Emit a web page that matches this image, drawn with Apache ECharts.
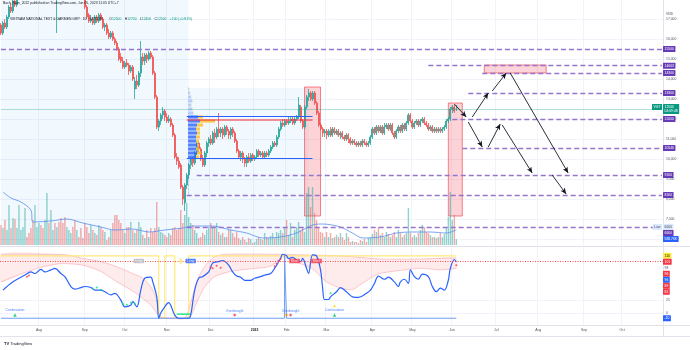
<!DOCTYPE html>
<html>
<head>
<meta charset="utf-8">
<script src="https://cdn.jsdelivr.net/npm/echarts@6/dist/echarts.min.js"></script>
<style>
html,body{margin:0;padding:0;background:#ffffff;}
#chart{width:690px;height:350px;}
</style>
</head>
<body>
<div id="chart"></div>
<script>
// ===== DATA (prices in hundreds of VND, volume in 100K shares) =====
const candles = [
[167,163,162,168],[163,168,162,169],[168,166,165,170],[166,171,165,172],[171,176,170,177],[176,174,173,178],[174,179,173,180],[179,177,176,181],[177,181,176,182],[181,184,180,185],
[184,186,183,188],[186,189,185,190],[189,191,188,193],[191,188,187,192],[188,186,185,189],[186,184,183,187],[184,182,181,185],[182,185,181,186],[185,187,184,188],[187,189,186,190],
[189,186,185,190],[186,184,183,187],[184,187,183,188],[187,189,186,190],[189,186,185,190],[186,188,185,189],[188,190,187,191],[190,187,186,191],[182,185,163,186],[186,184,183,187],
[184,183,182,185],[183,182,181,184],[182,181,181,183],[181,184,181,185],[184,186,183,187],[186,188,185,189],[188,185,184,189],[185,183,182,186],[183,186,182,187],[186,184,183,187],
[184,182,181,185],[182,181,181,183],[181,176,175,182],[176,171,170,177],[172,169,168,173],[169,170,168,172],[170,168,167,171],[168,171,167,172],[171,169,168,172],[169,172,168,173],
[172,170,169,173],[170,166,165,171],[166,167,164,168],[167,163,162,168],[163,161,160,165],[161,163,160,164],[163,160,159,164],[160,158,157,161],[158,155,154,159],[155,150,149,156],
[151,149,148,153],[149,146,145,151],[146,148,145,149],[148,147,146,150],[147,144,142,148],[144,146,143,147],[146,140,139,147],[135,139,130,141],[139,137,135,142],[137,143,136,144],
[143,151,141,159],[151,149,147,153],[149,152,147,153],[152,150,148,153],[150,153,149,154],[153,151,150,154],[151,143,142,152],[143,131,130,144],[131,116,115,132],[116,119,114,120],
[119,122,117,123],[122,124,120,126],[124,121,119,125],[121,119,118,123],[119,120,118,122],[120,117,116,121],[117,112,111,118],[112,101,100,113],[101,99,97,103],[99,96,95,101],
[97,86,85,98],[86,80,77,87],[78,87,74,88],[87,92,85,93],[92,97,90,98],[97,100,95,101],[100,98,96,101],[98,103,97,104],[103,108,102,109],[108,105,103,109],
[105,100,99,106],[100,97,96,102],[97,103,96,104],[103,108,101,109],[108,110,106,111],[110,108,107,112],[108,113,107,114],[113,111,108,115],[111,115,110,116],[115,113,111,123],
[113,115,111,116],[115,112,110,116],[112,116,111,117],[116,114,112,117],[114,112,110,115],[112,115,110,116],[115,113,111,116],[113,109,108,114],[109,104,103,110],[104,101,100,105],
[101,103,99,104],[103,100,98,104],[100,98,96,101],[98,101,96,102],[101,99,98,103],[99,102,98,103],[102,100,99,103],[100,101,99,102],[101,104,100,105],[104,102,101,105],
[102,103,101,104],[103,101,100,104],[101,103,100,104],[103,102,101,104],[102,104,101,105],[104,106,103,107],[106,108,105,109],[108,107,106,109],[107,111,106,112],[111,115,110,116],
[115,118,114,119],[118,117,116,120],[117,119,116,120],[119,118,117,120],[118,119,117,121],[119,120,118,121],[120,118,117,121],[118,120,117,121],[120,121,119,122],[121,127,120,131],
[126,119,118,127],[119,116,115,120],[116,126,115,127],[126,131,125,132],[131,133,129,135],[133,130,129,134],[130,133,129,134],[133,128,127,134],[128,123,122,129],[123,117,116,124],
[117,115,114,118],[115,113,111,116],[113,114,111,115],[114,112,110,115],[112,114,111,115],[114,112,111,116],[112,115,111,116],[115,113,112,116],[113,114,112,115],[114,112,111,115],
[112,113,110,114],[113,111,110,114],[111,110,109,112],[110,112,109,113],[112,110,108,113],[110,108,107,111],[108,109,107,110],[109,108,107,110],[108,107,106,109],[107,108,106,109],
[108,107,106,109],[107,109,106,110],[109,108,107,110],[108,107,106,109],[107,108,106,109],[108,111,107,112],[111,115,110,116],[115,113,112,116],[113,116,112,117],[116,114,113,117],
[114,116,113,117],[116,113,112,117],[113,116,112,118],[116,117,115,118],[117,115,114,118],[115,117,114,118],[117,113,112,118],[113,111,110,114],[111,114,110,115],[114,116,113,117],
[116,114,113,117],[114,117,113,118],[117,115,114,118],[115,118,114,119],[118,122,117,123],[122,119,118,123],[119,116,115,120],[116,118,115,119],[118,119,117,120],[119,117,116,120],
[117,119,116,120],[119,120,118,121],[120,118,117,121],[118,117,116,119],[117,115,114,118],[115,116,114,117],[116,114,113,117],[114,115,113,116],[115,114,113,116],[114,115,113,116],
[115,114,113,116],[114,115,113,116],[115,116,114,117],[116,119,115,120],[119,120,118,121],[120,125,119,126],[125,126,123,127],[126,124,123,127],[125,125,124,127]
];
const volume = [
20,17,25,15,40,17,27,26,17,40,15,18,37,8,12,17,25,40,18,22,20,17,25,52,22,35,15,22,18,23,27,22,28,18,15,12,18,25,15,8,17,7,22,18,12,20,15,12,10,20,18,15,13,5,8,15,22,
30,
30,25,22,15,12,18,18,23,15,12,15,23,18,10,7,15,8,17,13,17,43,18,13,12,10,8,12,10,17,18,15,17,35,22,30,42,28,22,20,15,12,7,8,12,10,15,18,22,17,18,22,13,10,12,8,8,15,
15,12,8,13,7,5,8,5,3,7,6,2,3,6,8,6,5,12,8,7,9,12,7,13,12,15,12,18,25,10,22,8,15,18,23,15,18,13,52,58,38,58,32,25,18,13,12,8,13,8,12,7,8,10,8,12,8,5,12,8,
3,4,3,3,2,5,4,6,3,7,8,11,15,13,18,10,12,8,13,11,8,10,13,8,15,12,8,10,12,37,12,8,10,8,12,15,20,18,13,12,10,8,8,7,8,12,8,11,18,28,53,25,30,5.8876
];
const volumeMA = [[1,53],[5,47],[10,43],[15,35],[16,23],[25,24],[33,26],[41,22],[50,18],[57,15],[66,16],[74,13],[82,15],[91,17],[96,19],[106,19],[115,15],[123,12],[131,7],[140,8],[148,12],[156,20],[161,21],[170,18],[176,12],[181,7],[190,8],[198,12],[206,13],[215,13],[223,12],[228,15]];
const monthLabels = ['Aug','Sep','Oct','Nov','Dec','2023','Feb','Mar','Apr','May','Jun','Jul','Aug','Sep','Oct'];
const monthStartBar = [19,42,62,83,105,127,143,163,186,206,226,248,269,292,311];
const totalBars = 332;
const priceTicks = [6000,7000,8000,9000,10000,11000,12000,13000,14000,15000,16000,17000];
const levelPrices = [15500,14663,14300,13300,12000,10546,9200,8200,6600];
const levelStartBar = [0,214,241,234,226,231,98,93,93];
const profileLines = [12150,11950,10050];
const profileSpan = [93,156];
const profileRows = [[8200,1,0],[8400,1,0],[8600,1,0.5],[8800,1,0.5],[9000,1,0.5],[9200,1.5,0.5],[9400,1.5,1],[9600,2,1],[9800,3,1],[10000,8,3],[10200,9,4],[10400,8,3],[10600,9,2],[10800,8,3],[11000,8,4],[11200,9,3],[11400,8,4],[11600,9,6],[11800,12,15],[12000,10,5],[12200,5,1],[12400,4,1],[12600,3,1],[12800,4,1],[13000,3,0.5],[13200,2,0.5],[13400,1,0.5]];
const pinkZones = [[152,13600,160,7150],[224,12800,231,7150],[242,14700,273,14300]];
const shadedZones = [[0,17950,94,5700],[94,13550,154,5700]];
const arrows = [[227,12750,233,12100],[236,12100,244,13300],[246,13400,253,14300],[255,14300,284,9300],[234,11850,241,10600],[244,10600,250,11750],[251,11700,266,9300],[276,9200,283,8250]];
const lastPrice = 12500;
const oscillator = [[1,44],[6,60],[12,73],[15,79],[17,76],[20,84],[22,79],[25,83],[27,86],[30,76],[32,70],[35,51],[37,46],[40,49],[42,51],[45,49],[47,44],[50,44],[52,41],[55,35],[57,38],[60,25],[62,12],[65,15],[66,22],[68,12],[70,44],[72,67],[75,69],[76,60],[78,31],[79,-10],[80,0],[82,12],[84,20],[85,15],[87,-4],[89,-10],[92,-10],[94,-10],[95,-4],[97,44],[99,67],[101,70],[104,79],[106,96],[109,99],[111,101],[114,92],[116,79],[118,71],[120,69],[122,63],[125,63],[127,67],[130,70],[132,73],[135,76],[137,86],[140,105],[141,113],[143,110],[144,105],[146,107],[148,102],[150,99],[151,105],[153,86],[154,76],[156,112],[158,110],[160,83],[161,51],[162,26],[164,26],[165,31],[168,41],[170,49],[173,41],[176,31],[179,30],[183,38],[185,44],[187,57],[189,71],[192,65],[194,69],[197,60],[199,51],[200,60],[202,65],[204,57],[205,83],[207,70],[209,65],[211,75],[214,70],[216,51],[218,41],[220,48],[222,44],[224,63],[225,86],[227,103],[228,98]];
const bandUpper = [[0,113],[33,112],[41,105],[50,99],[58,89],[66,76],[71,67],[75,51],[78,25],[80,-8],[86,-10],[92,-10],[95,20],[98,60],[102,90],[107,108],[112,113],[140,113],[150,112],[170,110],[190,104],[210,104],[228,106]];
const bandLower = [[0,60],[10,75],[20,88],[30,95],[41,92],[50,80],[58,60],[66,42],[71,28],[75,15],[78,0],[80,-8],[92,-10],[95,-5],[98,20],[102,50],[107,70],[115,80],[125,85],[135,90],[141,108],[146,100],[150,95],[156,85],[163,60],[170,48],[176,45],[180,55],[189,75],[200,82],[210,86],[220,83],[228,86]];
const trendLine = [[0,110],[79,110],[79,-10],[82,-10],[82,110],[87,110],[87,-10],[94,-10],[94,110],[228,110]];
const baseLine = [[0,-10],[142,-10],[142,110],[143,110],[143,-10],[228,-10]];
const accumLine = [[88,-2],[95,-2]];
const redDots = [[13,70],[14,72],[105,88],[106,86],[108,91],[110,87],[137,90],[138,95],[139,100],[140,104],[228,92]];
const greenDots = [[46,47],[48,49],[50,45],[61,18],[63,16],[65,20],[67,18],[165,38]];
const continuationBars = [7,167];
const overboughtBars = [117,145];
const warnBars = [143];
const longBars = [69];
const longActiveBars = [95];
const shortBars = [147,158];
const indicatorLast = [110,101,98,96,96,89,82,-10];

// ===== CHART =====
const FONT = 'Liberation Sans, Arial, sans-serif';
const chart = echarts.init(document.getElementById('chart'));
const categories = Array.from({length: totalBars}, (_, i) => String(i));
const monthMap = {};
monthStartBar.forEach((b, k) => { monthMap[b] = monthLabels[k]; });
const isMonth = (i) => monthMap[i] !== undefined;
const UP = '#26a69a', DOWN = '#ef5350';
const candleData = candles.map(c => c.map(v => v * 100));
const volData = volume.map((v, i) => ({value: v, itemStyle: {color: candles[i][1] >= candles[i][0] ? 'rgba(38,166,154,0.5)' : 'rgba(239,83,80,0.5)'}}));

function mkX(gi, show) {
  return {
    type: 'category', gridIndex: gi, data: categories, boundaryGap: true,
    axisLine: {show: false}, axisTick: {show: false},
    axisLabel: {show: show, interval: (i) => isMonth(i), formatter: (v, i) => monthMap[i] === '2023' ? '{b|2023}' : (monthMap[i] || ''),
      fontSize: 3.4, color: '#50535e', margin: 4, fontFamily: FONT, rich: {b: {fontSize: 3.4, fontWeight: 'bold', color: '#131722', fontFamily: FONT}}},
    splitLine: {show: true, interval: (i) => isMonth(i), lineStyle: {color: '#f0f3fa', width: 1}}
  };
}

const lineData = [];
levelPrices.forEach((p, k) => lineData.push([
  {coord: [levelStartBar[k], p], symbol: 'none', lineStyle: {color: '#9575cd', type: [5, 3], width: 1.4}},
  {coord: [totalBars - 1, p], symbol: 'none'}]));
const profColors = ['#2962ff', 'rgba(242,54,69,0.55)', '#2962ff'];
const profWidths = [1.2, 2, 1.2];
profileLines.forEach((p, k) => lineData.push([
  {coord: [profileSpan[0], p], symbol: 'none', lineStyle: {color: profColors[k], width: profWidths[k], type: 'solid'}},
  {coord: [profileSpan[1], p], symbol: 'none'}]));
lineData.push([{coord: [0, lastPrice], symbol: 'none', lineStyle: {color: 'rgba(8,153,129,0.3)', width: 1, type: 'solid'}}, {coord: [totalBars - 1, lastPrice], symbol: 'none'}]);
arrows.forEach(a => lineData.push([
  {coord: [a[0], a[1]], symbol: 'none', lineStyle: {color: '#131722', width: 0.9, type: 'solid'}},
  {coord: [a[2], a[3]], symbol: 'arrow', symbolSize: [4, 6]}]));

const pinkAreas = pinkZones.map(z => [
  {coord: [z[0], z[1]], itemStyle: {color: 'rgba(242,54,69,0.22)', borderColor: 'rgba(242,54,69,0.6)', borderWidth: 1}},
  {coord: [z[2], z[3]]}]);
const shadeAreas = shadedZones.map(z => [
  {coord: [z[0], z[1]], itemStyle: {color: 'rgba(33,150,243,0.06)'}},
  {coord: [z[2], z[3]]}]);

function tagLabel(text, bg, fg) {
  return {show: true, position: 'inside', formatter: text, backgroundColor: bg, color: fg, fontSize: 3.2, padding: [0.8, 1.5], borderRadius: 0.5, fontFamily: FONT};
}

const option = {
  animation: false,
  backgroundColor: '#ffffff',
  grid: [
    {left: 0, right: 27, top: 0, height: 245},
    {left: 0, right: 27, top: 185, height: 60},
    {left: 0, right: 27, top: 247, height: 78},
    {left: 188, width: 60, top: 0, height: 245}
  ],
  xAxis: [
    mkX(0, false), mkX(1, false), mkX(2, true),
    {type: 'value', gridIndex: 3, min: 0, max: 60, show: false}
  ],
  yAxis: [
    {type: 'value', gridIndex: 0, position: 'right', min: 5700, max: 17950,
      axisLine: {show: false}, axisTick: {show: false, customValues: priceTicks},
      axisLabel: {customValues: priceTicks, fontSize: 3.4, color: '#50535e', margin: 3, fontFamily: FONT},
      splitLine: {show: true, lineStyle: {color: '#f0f3fa'}}},
    {type: 'value', gridIndex: 1, min: 0, max: 60, show: false},
    {type: 'value', gridIndex: 2, position: 'right', min: -23, max: 127,
      axisLine: {show: false}, axisTick: {show: false, customValues: [0, 25]},
      axisLabel: {customValues: [0, 25], fontSize: 3.4, color: '#50535e', margin: 3, fontFamily: FONT},
      splitLine: {show: true, lineStyle: {color: '#f0f3fa'}}},
    {type: 'value', gridIndex: 3, min: 5700, max: 17950, show: false}
  ],
  series: [
    {type: 'line', xAxisIndex: 0, yAxisIndex: 0, data: [], z: 0, silent: true,
      markArea: {silent: true, data: shadeAreas}},
    {type: 'bar', xAxisIndex: 1, yAxisIndex: 1, data: volData, barWidth: 1.4, z: 1, silent: true},
    {type: 'line', xAxisIndex: 1, yAxisIndex: 1, data: volumeMA, showSymbol: false, smooth: 0.3,
      lineStyle: {color: '#5b8def', width: 0.8}, z: 3, silent: true},
    {type: 'custom', xAxisIndex: 3, yAxisIndex: 3, data: profileRows, silent: true, z: 3,
      renderItem: (params, api) => {
        const lo = api.value(0), up = api.value(1), dn = api.value(2);
        const a = api.coord([0, lo + 200]), b = api.coord([up, lo]), c = api.coord([up + dn, lo]);
        const inVA = lo >= 10000 && lo <= 12000;
        const h = b[1] - a[1] - 0.8;
        return {type: 'group', children: [
          {type: 'rect', shape: {x: a[0], y: a[1] + 0.4, width: b[0] - a[0], height: h}, style: {fill: inVA ? 'rgba(41,98,255,0.8)' : 'rgba(41,98,255,0.28)'}},
          {type: 'rect', shape: {x: b[0], y: a[1] + 0.4, width: c[0] - b[0], height: h}, style: {fill: inVA ? 'rgba(251,192,45,0.85)' : 'rgba(251,192,45,0.3)'}}
        ]};
      }},
    {type: 'candlestick', xAxisIndex: 0, yAxisIndex: 0, data: candleData, barWidth: 1.5, clip: true, z: 2,
      itemStyle: {color: UP, color0: DOWN, borderColor: UP, borderColor0: DOWN, borderWidth: 0.8},
      markArea: {silent: true, data: pinkAreas},
      markLine: {silent: true, symbol: ['none', 'none'], label: {show: false}, animation: false, data: lineData}},
    // indicator pane
    {type: 'custom', xAxisIndex: 2, yAxisIndex: 2, data: [0], silent: true, z: 1,
      renderItem: (params, api) => {
        const up = bandUpper.map(p => api.coord(p));
        const lo = bandLower.map(p => api.coord(p));
        return {type: 'group', children: [
          {type: 'polygon', shape: {points: up.concat(lo.slice().reverse()), smooth: 0.25}, style: {fill: 'rgba(242,54,69,0.1)'}},
          {type: 'polyline', shape: {points: up, smooth: 0.25}, style: {stroke: 'rgba(242,54,69,0.3)', lineWidth: 0.8, fill: null}},
          {type: 'polyline', shape: {points: lo, smooth: 0.25}, style: {stroke: 'rgba(242,54,69,0.3)', lineWidth: 0.8, fill: null}}
        ]};
      }},
    {type: 'line', xAxisIndex: 2, yAxisIndex: 2, data: trendLine, showSymbol: false, lineStyle: {color: '#ffe97a', width: 1.2}, z: 2, silent: true},
    {type: 'line', xAxisIndex: 2, yAxisIndex: 2, data: baseLine, showSymbol: false, lineStyle: {color: '#6f9cf2', width: 1}, z: 2, silent: true},
    {type: 'line', xAxisIndex: 2, yAxisIndex: 2, data: accumLine, showSymbol: false, lineStyle: {color: '#00e676', width: 1.2}, z: 3, silent: true},
    {type: 'line', xAxisIndex: 2, yAxisIndex: 2, data: oscillator, showSymbol: false, smooth: 0.35, lineStyle: {color: '#2962ff', width: 1.2}, z: 4, silent: true,
      markLine: {silent: true, symbol: ['none', 'none'], label: {show: false}, data: [{yAxis: 100, lineStyle: {color: '#f23645', type: [1, 1.5], width: 0.9}}]}},
    {type: 'scatter', xAxisIndex: 2, yAxisIndex: 2, data: redDots, symbol: 'circle', symbolSize: 2, itemStyle: {color: '#f23645'}, z: 5, silent: true},
    {type: 'scatter', xAxisIndex: 2, yAxisIndex: 2, data: greenDots, symbol: 'circle', symbolSize: 2, itemStyle: {color: '#00e676'}, z: 5, silent: true},
    {type: 'scatter', xAxisIndex: 2, yAxisIndex: 2, data: continuationBars.map(b => [b, -4]), symbol: 'triangle', symbolSize: 3.5, itemStyle: {color: '#00c853'}, z: 5, silent: true,
      label: {show: true, position: 'top', distance: 1.5, formatter: 'Continuation', color: '#2962ff', fontSize: 3.4, fontFamily: FONT}},
    {type: 'scatter', xAxisIndex: 2, yAxisIndex: 2, data: overboughtBars.map(b => [b, -4]), symbol: 'circle', symbolSize: 2.6, itemStyle: {color: '#f23645'}, z: 5, silent: true,
      label: {show: true, position: 'top', distance: 1.5, formatter: 'Overbought', color: '#2962ff', fontSize: 3.4, fontFamily: FONT}},
    {type: 'scatter', xAxisIndex: 2, yAxisIndex: 2, data: warnBars.map(b => [b, -4]), symbol: 'circle', symbolSize: 2.6, itemStyle: {color: '#ff9800'}, z: 5, silent: true},
    {type: 'scatter', xAxisIndex: 2, yAxisIndex: 2, data: continuationBars.slice(1).map(b => [b, 14]), symbol: 'triangle', symbolSize: 3, itemStyle: {color: '#ffd600'}, z: 5, silent: true},
    {type: 'scatter', xAxisIndex: 2, yAxisIndex: 2, data: longBars.map(b => [b, 100]), symbolSize: 1, itemStyle: {color: 'rgba(0,0,0,0)'}, z: 6, silent: true,
      label: tagLabel('Long', '#b2b5be', '#ffffff')},
    {type: 'scatter', xAxisIndex: 2, yAxisIndex: 2, data: longActiveBars.map(b => [b - 5, 100]), symbol: 'rect', symbolSize: [3, 5], itemStyle: {color: '#ffe97a'}, z: 6, silent: true},
    {type: 'scatter', xAxisIndex: 2, yAxisIndex: 2, data: longActiveBars.map(b => [b, 100]), symbolSize: 1, itemStyle: {color: 'rgba(0,0,0,0)'}, z: 6, silent: true,
      label: tagLabel('Long', '#2962ff', '#ffffff')},
    {type: 'scatter', xAxisIndex: 2, yAxisIndex: 2, data: shortBars.map(b => [b, 100]), symbolSize: 1, itemStyle: {color: 'rgba(0,0,0,0)'}, z: 6, silent: true,
      label: tagLabel('Short', '#f23645', '#ffffff')}
  ]
};
chart.setOption(option);

// ===== axis tags (price scale labels), stacked to avoid overlap =====
function layoutTags(list) {
  list.sort((a, b) => a.y - b.y);
  let prev = -1e9;
  list.forEach(t => { let top = t.y - t.h / 2; if (top < prev) top = prev; t.top = top; prev = top + t.h; });
  return list;
}
const py = (v) => chart.convertToPixel({yAxisIndex: 0}, v);
const vy = (v) => chart.convertToPixel({yAxisIndex: 1}, v);
const iy = (v) => chart.convertToPixel({yAxisIndex: 2}, v);
const TAGH = 6;
const priceTags = levelPrices.map(p => ({y: py(p), h: TAGH, text: String(p), bg: '#673ab7', fg: '#ffffff', key: p === 6600 ? 1 : 0}));
priceTags.push({y: py(lastPrice), h: 10, text: String(lastPrice) + '\n04:09:48', bg: '#089981', fg: '#ffffff'});
priceTags.push({y: py(6600) - 0.01, h: TAGH, text: '6600', bg: '#dbe8fd', fg: '#50535e'});
priceTags.push({y: vy(volume[volume.length - 1]), h: TAGH, text: '588.76K', bg: '#2962ff', fg: '#ffffff'});
layoutTags(priceTags);
const indColors = [['#ffeb3b', '#131722'], ['#f23645', '#fff'], [null, '#50535e'], ['#f23645', '#fff'], ['#2962ff', '#fff'], ['#f23645', '#fff'], ['#f23645', '#fff'], ['#2962ff', '#fff']];
const indTags = indicatorLast.map((v, k) => ({y: iy(v) + k * 0.001, h: TAGH, text: String(v), bg: indColors[k][0], fg: indColors[k][1]}));
layoutTags(indTags);

const graphics = [];
function tagEl(t, x, align) {
  const st = {text: t.text, fill: t.fg, fontSize: 3.4, lineHeight: t.h === 10 ? 4 : 4, fontFamily: FONT,
    padding: t.h === 10 ? [1, 1.5] : [1, 1.5], align: align || 'left', verticalAlign: 'top'};
  if (t.bg) { st.backgroundColor = t.bg; st.borderRadius = 0.6; }
  return {type: 'text', x: x, y: t.top, z: 100, style: st};
}
priceTags.concat(indTags).forEach(t => graphics.push(tagEl(t, 663)));
// side labels
const lastTag = priceTags.find(t => t.bg === '#089981');
graphics.push({type: 'text', x: 662, y: lastTag.top, z: 100, style: {text: 'VGT', fill: '#fff', backgroundColor: '#089981', padding: [1, 1.5], fontSize: 3.4, lineHeight: 4, align: 'right', verticalAlign: 'top', fontFamily: FONT}});
const lowTag = priceTags.find(t => t.text === '6600' && t.bg === '#dbe8fd');
graphics.push({type: 'text', x: 662, y: lowTag.top, z: 100, style: {text: 'Low', fill: '#50535e', backgroundColor: '#dbe8fd', padding: [1, 1.5], fontSize: 3.4, lineHeight: 4, align: 'right', verticalAlign: 'top', fontFamily: FONT}});
// frame lines
graphics.push({type: 'line', z: 50, shape: {x1: 663.5, y1: 0, x2: 663.5, y2: 337}, style: {stroke: '#e0e3eb', lineWidth: 1}});
graphics.push({type: 'line', z: 50, shape: {x1: 0, y1: 246.5, x2: 690, y2: 246.5}, style: {stroke: '#e0e3eb', lineWidth: 1}});
graphics.push({type: 'line', z: 50, shape: {x1: 0, y1: 325.5, x2: 690, y2: 325.5}, style: {stroke: '#e0e3eb', lineWidth: 1}});
graphics.push({type: 'line', z: 50, shape: {x1: 0, y1: 336.5, x2: 690, y2: 336.5}, style: {stroke: '#e0e3eb', lineWidth: 1}});
// header & footer text
graphics.push({type: 'text', x: 3, y: 2, z: 100, style: {text: 'Bach_Nam_2022 published on TradingView.com, Jun 05, 2023 11:05 UTC+7', fill: '#131722', fontSize: 3.4, fontFamily: FONT, verticalAlign: 'top'}});
graphics.push({type: 'text', x: 10, y: 13, z: 100, style: {
  text: '{n|VIETNAM NATIONAL TEXT & GARMEN GRP · 1D · UPCOM}  {n|O}{g|12500} {n|H}{g|12700} {n|L}{g|12400} {n|C}{g|12500} {g|+100 (+0.81%)}',
  verticalAlign: 'top', fontFamily: FONT,
  rich: {n: {fill: '#131722', fontSize: 3.4, fontFamily: FONT}, g: {fill: '#089981', fontSize: 3.4, fontFamily: FONT}}}});
graphics.push({type: 'text', x: 666, y: 13, z: 100, style: {text: 'VND', fill: '#50535e', fontSize: 3.4, fontFamily: FONT, verticalAlign: 'top'}});
graphics.push({type: 'text', x: 4, y: 342, z: 100, style: {text: '{b|TV} TradingView', verticalAlign: 'top', fontFamily: FONT,
  rich: {b: {fill: '#131722', fontSize: 4, fontWeight: 'bold', fontFamily: FONT}}, fill: '#131722', fontSize: 4}});
chart.setOption({graphic: graphics});
</script>
</body>
</html>
